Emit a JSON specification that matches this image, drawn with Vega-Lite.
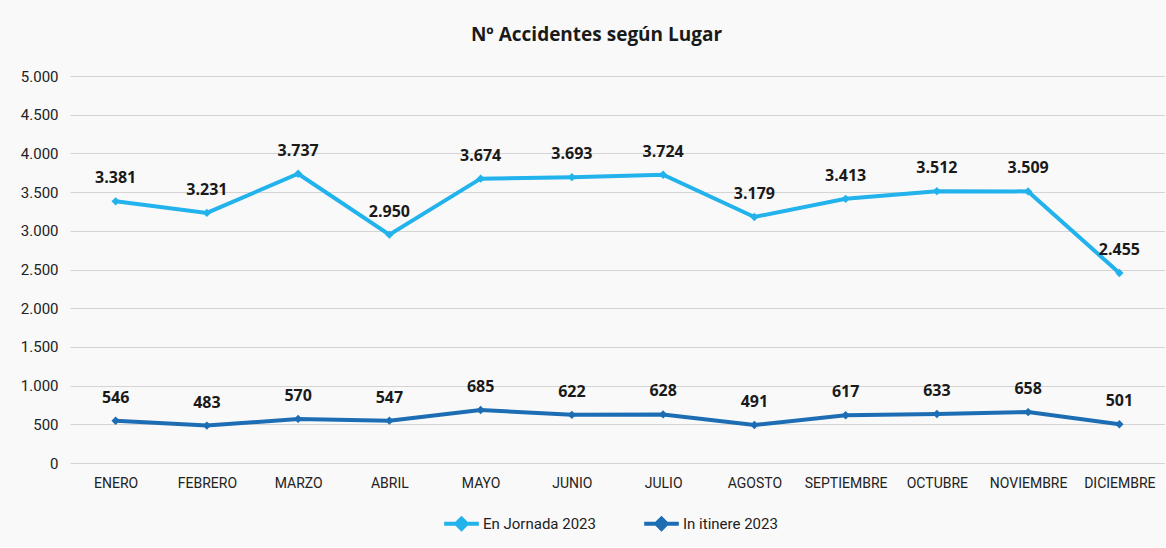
{
  "$schema": "https://vega.github.io/schema/vega-lite/v6.json",
  "width": 1095,
  "height": 387,
  "padding": {"top": 26, "left": 20, "right": 0, "bottom": 10},
  "background": "#f9f9f9",
  "config": {
    "locale": {"number": {"decimal": ",", "thousands": ".", "grouping": [3], "currency": ["", " €"]}},
    "view": {"stroke": null},
    "font": "Roboto"
  },
  "title": {
    "text": "Nº Accidentes según Lugar",
    "font": "Open Sans",
    "fontSize": 19,
    "fontWeight": "bold",
    "color": "#1a1a1a",
    "anchor": "middle",
    "dx": -21,
    "offset": 24
  },
  "data": {
    "values": [
      {"mes": "ENERO", "serie": "En Jornada 2023", "valor": 3381},
      {"mes": "FEBRERO", "serie": "En Jornada 2023", "valor": 3231},
      {"mes": "MARZO", "serie": "En Jornada 2023", "valor": 3737},
      {"mes": "ABRIL", "serie": "En Jornada 2023", "valor": 2950},
      {"mes": "MAYO", "serie": "En Jornada 2023", "valor": 3674},
      {"mes": "JUNIO", "serie": "En Jornada 2023", "valor": 3693},
      {"mes": "JULIO", "serie": "En Jornada 2023", "valor": 3724},
      {"mes": "AGOSTO", "serie": "En Jornada 2023", "valor": 3179},
      {"mes": "SEPTIEMBRE", "serie": "En Jornada 2023", "valor": 3413},
      {"mes": "OCTUBRE", "serie": "En Jornada 2023", "valor": 3512},
      {"mes": "NOVIEMBRE", "serie": "En Jornada 2023", "valor": 3509},
      {"mes": "DICIEMBRE", "serie": "En Jornada 2023", "valor": 2455},
      {"mes": "ENERO", "serie": "In itinere 2023", "valor": 546},
      {"mes": "FEBRERO", "serie": "In itinere 2023", "valor": 483},
      {"mes": "MARZO", "serie": "In itinere 2023", "valor": 570},
      {"mes": "ABRIL", "serie": "In itinere 2023", "valor": 547},
      {"mes": "MAYO", "serie": "In itinere 2023", "valor": 685},
      {"mes": "JUNIO", "serie": "In itinere 2023", "valor": 622},
      {"mes": "JULIO", "serie": "In itinere 2023", "valor": 628},
      {"mes": "AGOSTO", "serie": "In itinere 2023", "valor": 491},
      {"mes": "SEPTIEMBRE", "serie": "In itinere 2023", "valor": 617},
      {"mes": "OCTUBRE", "serie": "In itinere 2023", "valor": 633},
      {"mes": "NOVIEMBRE", "serie": "In itinere 2023", "valor": 658},
      {"mes": "DICIEMBRE", "serie": "In itinere 2023", "valor": 501}
    ]
  },
  "encoding": {
    "x": {
      "field": "mes",
      "type": "nominal",
      "sort": null,
      "scale": {"type": "point", "padding": 0.5},
      "axis": {
        "title": null,
        "labelAngle": 0,
        "labelFontSize": 14,
        "labelColor": "#222",
        "labelPadding": 13,
        "labelOverlap": false,
        "ticks": false,
        "domain": false,
        "grid": false
      }
    },
    "y": {
      "field": "valor",
      "type": "quantitative",
      "scale": {"domain": [0, 5000]},
      "axis": {
        "title": null,
        "values": [0, 500, 1000, 1500, 2000, 2500, 3000, 3500, 4000, 4500, 5000],
        "format": ",d",
        "labelFontSize": 15,
        "labelColor": "#222",
        "labelPadding": 12,
        "ticks": false,
        "domain": false,
        "gridColor": "#d4d4d4",
        "gridWidth": 1
      }
    },
    "color": {
      "field": "serie",
      "type": "nominal",
      "scale": {"domain": ["En Jornada 2023", "In itinere 2023"], "range": ["#22b2ec", "#1c6db4"]},
      "legend": {
        "title": null,
        "orient": "none",
        "legendX": 372,
        "legendY": 428,
        "direction": "horizontal",
        "labelFontSize": 15,
        "labelColor": "#222",
        "symbolType": "M-1,0H1M-0.3,0L0,-0.3L0.3,0L0,0.3Z",
        "symbolSize": 1200,
        "symbolStrokeWidth": 4,
        "columnPadding": 40,
        "labelOffset": 2
      }
    }
  },
  "layer": [
    {
      "mark": {"type": "line", "strokeWidth": 4, "point": {"shape": "diamond", "size": 70, "filled": true}}
    },
    {
      "mark": {"type": "text", "baseline": "bottom", "dy": -15, "fontSize": 16, "fontWeight": "bold", "font": "Open Sans", "color": "#1a1a1a"},
      "encoding": {
        "text": {"field": "valor", "type": "quantitative", "format": ",d"},
        "color": {"value": "#1a1a1a"}
      }
    }
  ]
}
